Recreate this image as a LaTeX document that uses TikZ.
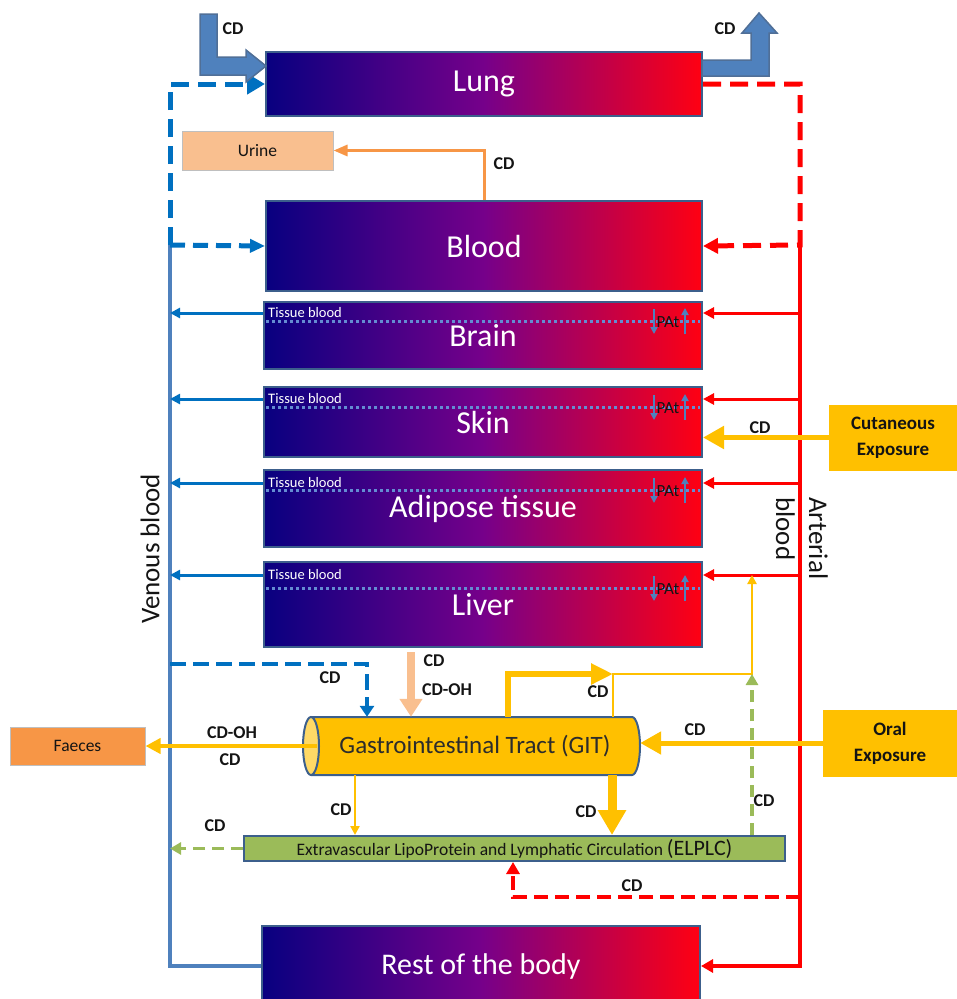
\documentclass[tikz,border=0pt]{standalone}
\usepackage{fontspec}
\setmainfont{Carlito}
\usetikzlibrary{arrows.meta,calc}
\definecolor{gL}{RGB}{8,0,128}
\definecolor{gM}{RGB}{118,0,138}
\definecolor{gR}{RGB}{255,0,18}
\definecolor{edge}{RGB}{60,95,140}
\definecolor{venc}{RGB}{79,129,189}
\definecolor{bluea}{RGB}{0,112,192}
\definecolor{gold}{RGB}{255,192,0}
\definecolor{goldlt}{RGB}{255,217,102}
\definecolor{peach}{RGB}{249,191,143}
\definecolor{orng}{RGB}{247,150,70}
\definecolor{grn}{RGB}{155,187,89}
\definecolor{dotc}{RGB}{100,140,210}
\definecolor{redc}{RGB}{255,0,0}
\definecolor{blk}{RGB}{20,20,20}
\begin{document}
\begin{tikzpicture}[x=1pt,y=-1pt,
  organ/.style={draw=edge, line width=2, left color=gL, right color=gR, middle color=gM,
    text=white, inner sep=0, font=\fontsize{32}{38}\selectfont},
  tb/.style={text=white, inner sep=0, anchor=west, font=\fontsize{14.5}{17}\selectfont},
  patl/.style={text=blk, inner sep=0, font=\fontsize{17}{19}\selectfont},
  patarr/.style={draw=venc, line width=1.8, -{Triangle[length=7pt,width=7pt]}},
  dotl/.style={draw=dotc, line width=3, dash pattern=on 3pt off 3pt},
  cd/.style={text=blk, inner sep=0, font=\bfseries\fontsize{18}{21}\selectfont},
  vena/.style={draw=bluea, line width=3, -{Triangle[length=10pt,width=10pt]}},
  arta/.style={draw=redc, line width=3, -{Triangle[length=11pt,width=11pt]}},
  bdash/.style={draw=bluea, line width=5, dash pattern=on 18pt off 9pt},
  rdash/.style={draw=redc, line width=5, dash pattern=on 18pt off 9pt},
  gdash/.style={draw=grn, line width=3.5, dash pattern=on 12pt off 7pt, -{Triangle[length=11pt,width=12pt]}},
  ythin/.style={draw=gold, line width=2.5},
  ymid/.style={draw=gold, line width=4.5, -{Triangle[length=15pt,width=15pt]}},
  ythick/.style={draw=gold, line width=6, -{Triangle[length=21pt,width=22pt]}},
  boxlab/.style={inner sep=0, text=blk, font=\fontsize{17.5}{20}\selectfont},
  expo/.style={fill=gold, inner sep=0, minimum height=66, align=center, text=blk,
    font=\bfseries\fontsize{19}{26}\selectfont},
  blockarr/.style={fill=venc, draw=edge!90, line width=1.5, line join=miter}
]
\useasboundingbox (0,0) rectangle (957,999);

% ---------- organs ----------
\node[organ, minimum width=436, minimum height=64] (lung) at (484,84) {\raisebox{-4pt}{Lung}};
\node[organ, minimum width=436, minimum height=90] (blood) at (484,246) {Blood};
\node[organ, minimum width=438, minimum height=67] (brain) at (483,335.5) {Brain};
\node[organ, minimum width=438, minimum height=70] (skin) at (483,422) {Skin};
\node[organ, minimum width=438, minimum height=77] (adip) at (483,508.5) {Adipose tissue};
\node[organ, minimum width=438, minimum height=85] (liver) at (483,604.5) {Liver};
\node[organ, minimum width=438, minimum height=80, font=\fontsize{30}{36}\selectfont] (rest) at (481,966) {Rest of the body};

% tissue blood labels, dotted lines, PAt
\foreach \o/\ty/\dy in {brain/12/20, skin/13/21, adip/14/21, liver/14/27}{
  \node[tb] (tb\o) at ($(\o.north west)+(5,\ty)$) {Tissue blood};
  \draw[dotl] ($(\o.north west)+(3,\dy)$) -- ($(\o.north east)+(-3,\dy)$);
  \node[patl] (pat\o) at ($(\o.north east)+(-35,\dy+1)$) {PAt};
  \draw[patarr] ($(\o.north east)+(-49,\dy-12)$) -- ++(0,25);
  \draw[patarr] ($(\o.north east)+(-18,\dy+13)$) -- ++(0,-26);
}

% ---------- venous / arterial lines ----------
\coordinate (ventop) at (170,245);
\coordinate (venbot) at (170,966);
\coordinate (arttop) at (800,245);
\coordinate (artbot) at (800,966);

\draw[draw=venc, line width=3.5] (ventop) -- (venbot) -- (rest.west);
\draw[draw=redc, line width=3.5, -{Triangle[length=12pt,width=13pt]}] (arttop) -- (artbot) -- (rest.east);

\foreach \o in {brain,skin,adip,liver}{
  \draw[vena] (\o.west |- tb\o.west) -- (ventop |- tb\o.west);
  \draw[arta] (arttop |- tb\o.west) -- (\o.east |- tb\o.west);
}

\draw[bdash, -{Triangle[length=18pt,width=20pt]}] (ventop) -- (ventop |- lung.west) -- (lung.west);
\draw[bdash, dash pattern=on 15pt off 8pt, -{Triangle[length=15pt,width=13pt]}] (ventop) -- (blood.west);
\draw[rdash, -{Triangle[length=15pt,width=15pt]}] (lung.east) -- (lung.east -| arttop) -- (arttop) -- (blood.east);

\node[rotate=90, inner sep=0, text=blk, font=\fontsize{27}{33}\selectfont] (venlab) at (150,549) {Venous blood};
\node[rotate=-90, anchor=west, align=left, inner sep=0, text=blk, font=\fontsize{27}{33}\selectfont] (artlab) at (802,497) {Arterial\\blood};

% ---------- CD block arrows at lung ----------
\path[blockarr] (200,14) -- (217,14) -- (217,57) -- (246,57) -- (246,50) -- (266,66) -- (246,82) -- (246,75) -- (200,75) -- cycle;
\path[blockarr] (702,60) -- (751,60) -- (751,33) -- (742,33) -- (759,13) -- (777,33) -- (769,33) -- (769,76) -- (702,76) -- cycle;
\node[cd] (cdA) at (233,29) {CD};
\node[cd] (cdB) at (725,29) {CD};

% ---------- urine ----------
\node[boxlab, fill=peach, draw=black!25, line width=1, minimum width=151, minimum height=39] (urine) at (257.5,150.5) {Urine};
\draw[draw=orng, line width=3, -{Triangle[length=14pt,width=11pt]}] (blood.north) -- (blood.north |- urine.east) -- (urine.east);
\node[cd] (cdU) at (504,164) {CD};

% ---------- cutaneous ----------
\node[expo, minimum width=128] (cut) at (893,437.5) {Cutaneous\\Exposure};
\draw[ythick, line width=5] (cut.west) -- (cut.west -| skin.east);
\node[cd] (cdC) at (760,428) {CD};

% ---------- GIT ----------
\fill[gold] (311,717) -- (632,717) arc[start angle=-90, end angle=90, x radius=8, y radius=29] -- (311,775) arc[start angle=90, end angle=270, x radius=8, y radius=29] -- cycle;
\draw[edge, line width=2] (311,717) -- (632,717) arc[start angle=-90, end angle=90, x radius=8, y radius=29] -- (311,775);
\filldraw[fill=goldlt, draw=edge, line width=2] (311,746) ellipse[x radius=8, y radius=29];
\node[inner sep=0, minimum width=337, minimum height=58, text=blk!90, font=\fontsize{25}{29}\selectfont] (git) at (471.5,746) {\hspace*{7pt}Gastrointestinal Tract (GIT)};

\node[expo, minimum width=134, minimum height=67] (oral) at (890,743) {Oral\\Exposure};
\draw[ythick, line width=5] (oral.west) -- (oral.west -| git.east);
\node[cd] (cdO) at (695,730) {CD};

\node[boxlab, fill=orng, draw=black!25, line width=1, minimum width=135, minimum height=38] (faeces) at (77.5,746) {Faeces};
\draw[ymid, line width=4] ($(git.west)+(14,0)$) -- (faeces.east);
\node[cd] (cdF1) at (232,733) {CD-OH};
\node[cd] (cdF2) at (230,760) {CD};

% liver -> GIT
\coordinate (pk) at ($(liver.south)+(-72,4)$);
\draw[draw=peach, line width=8, -{Triangle[length=18pt,width=22pt]}] (pk) -- (pk |- git.north);
\node[cd] (cdL1) at (434,661) {CD};
\node[cd] (cdL2) at (447,690) {CD-OH};

% venous -> GIT (dashed)
\coordinate (vg) at (170,664);
\coordinate (vgc) at (367,664);
\draw[draw=bluea, line width=4, dash pattern=on 16pt off 7pt, -{Triangle[length=11pt,width=14pt]}] (vg) -- (vgc) -- (vgc |- git.north);
\node[cd] (cdV) at (330,678) {CD};

% GIT -> up (thick) and thin to liver arterial
\coordinate (junc) at (613,674);
\coordinate (gup) at (752,674);
\coordinate (gt) at (508,0);
\draw[draw=gold, line width=6, -{Triangle[length=22pt,width=20pt]}] (git.north -| gt) -- (gt |- junc) -- (junc);
\draw[ythin, -{Triangle[length=9pt,width=9pt]}] (git.north -| junc) -- (junc) -- (gup) -- (gup |- tbliver.west);
\node[cd] (cdT) at (598,692) {CD};

% ---------- ELPLC ----------
\node[fill=grn, draw=edge, line width=2, inner sep=0, minimum width=541, minimum height=25, text=blk, font=\fontsize{17.5}{20}\selectfont] (elplc) at (514.5,848.5) {Extravascular LipoProtein and Lymphatic Circulation {\fontsize{22}{22}\selectfont(ELPLC)}};

\coordinate (gb1) at (355,0);
\coordinate (gb2) at (612,0);
\draw[ythin, -{Triangle[length=9pt,width=9pt]}] (git.south -| gb1) -- (elplc.north -| gb1);
\draw[draw=gold, line width=9, -{Triangle[length=25pt,width=27pt]}] (git.south -| gb2) -- (elplc.north -| gb2);
\node[cd] (cdG1) at (341,810) {CD};
\node[cd] (cdG2) at (586,812) {CD};

\draw[gdash] (elplc.north -| gup) -- (gup);
\node[cd] (cdE) at (764,801) {CD};

\draw[gdash] (elplc.west) -- (elplc.west -| ventop);
\node[cd] (cdW) at (215,826) {CD};

\coordinate (rd) at (513,897);
\draw[draw=redc, line width=4.5, dash pattern=on 14pt off 7pt, -{Triangle[length=12pt,width=13pt]}] (rd -| arttop) -- (rd) -- (rd |- elplc.south);
\node[cd] (cdR) at (632,886) {CD};
\end{tikzpicture}
\end{document}
